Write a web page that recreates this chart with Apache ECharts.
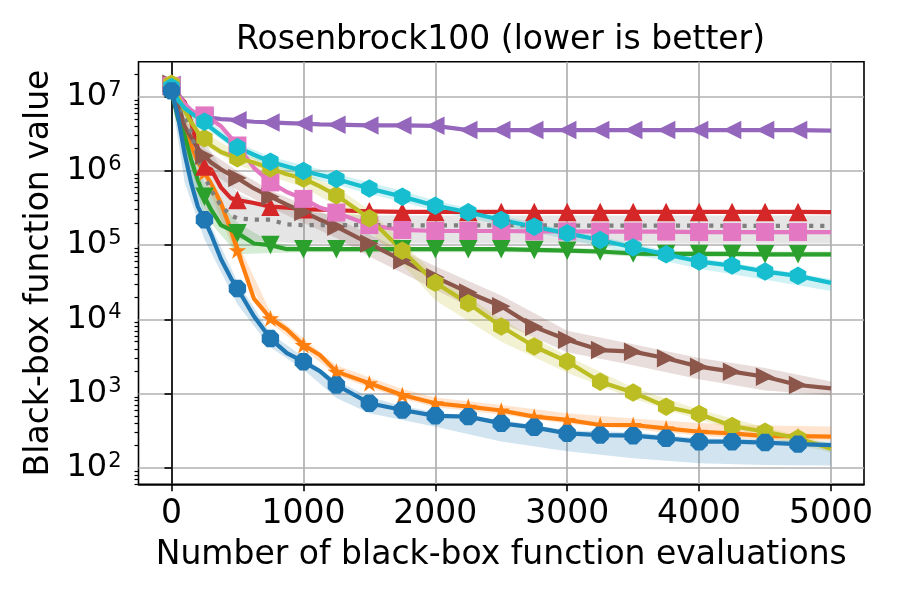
<!DOCTYPE html>
<html><head><meta charset="utf-8">
<script src="https://cdn.jsdelivr.net/npm/echarts@6/dist/echarts.min.js"></script>
<style>html,body{margin:0;padding:0;background:#fff}#c{width:900px;height:600px}</style>
</head><body><div id="c"></div>
<script>
// ---- data ----
const evals = [0,50,100,150,200,250,300,375,450,500,625,750,875,1000,1125,1250,1500,1750,2000,2250,2500,2750,3000,3250,3500,3750,4000,4250,4500,4750,5000];
const blueVals   = [1.2e7,5.4e6,1.7e6,6.8e5,3.3e5,2.2e5,1.4e5,6.5e4,3.6e4,2.6e4,1.1e4,5.5e3,3.5e3,2.68e3,2.0e3,1.3e3,740,600,500,487,396,350,290,275,270,249,224,224,218,208,202];
const orangeVals = [1.3e7,7.3e6,3.8e6,2.2e6,1.3e6,9.5e5,6.8e5,3.7e5,1.6e5,8.5e4,1.9e4,1.03e4,7.3e3,4.5e3,3.3e3,1.97e3,1.37e3,955,738,664,590,487,440,376,376,339,305,290,267,267,262];
const greenVals  = [1.2e7,5.0e6,3.0e6,1.4e6,7.5e5,4.5e5,3.0e5,1.86e5,1.6e5,1.45e5,1.05e5,1.0e5,8.8e4,8.8e4,8.8e4,8.8e4,8.8e4,8.8e4,8.8e4,8.8e4,8.8e4,8.6e4,8.4e4,8.2e4,7.7e4,7.6e4,7.6e4,7.6e4,7.5e4,7.5e4,7.5e4];
const redVals    = [1.4e7,1.05e7,8.5e6,4.5e6,2.0e6,1.15e6,1.05e6,6.0e5,4.3e5,4.06e5,3.7e5,3.3e5,3.2e5,3.05e5,3.0e5,2.95e5,2.85e5,2.8e5,2.8e5,2.8e5,2.8e5,2.8e5,2.8e5,2.8e5,2.8e5,2.8e5,2.8e5,2.8e5,2.8e5,2.8e5,2.78e5];
const purpleVals = [1.45e7,1.1e7,8.0e6,6.5e6,5.8e6,5.5e6,5.2e6,5.0e6,4.9e6,4.8e6,4.6e6,4.5e6,4.4e6,4.35e6,4.25e6,4.2e6,4.1e6,4.1e6,4.05e6,3.55e6,3.55e6,3.55e6,3.55e6,3.55e6,3.55e6,3.55e6,3.55e6,3.55e6,3.55e6,3.55e6,3.5e6];
const brownVals  = [1.5e7,8.0e6,4.0e6,2.8e6,2.0e6,1.6e6,1.3e6,1.05e6,8.8e5,8.0e5,5.8e5,4.5e5,3.5e5,2.8e5,2.2e5,1.77e5,1.05e5,6.2e4,3.7e4,2.3e4,1.5e4,7.9e3,5.3e3,3.85e3,3.66e3,2.98e3,2.3e3,1.97e3,1.68e3,1.3e3,1.17e3];
const pinkVals   = [1.4e7,1.05e7,8.0e6,6.5e6,5.8e6,5.6e6,5.0e6,4.0e6,2.8e6,2.2e6,1.1e6,7.0e5,5.2e5,4.2e5,3.2e5,2.75e5,1.86e5,1.6e5,1.55e5,1.55e5,1.55e5,1.53e5,1.53e5,1.52e5,1.52e5,1.52e5,1.5e5,1.5e5,1.5e5,1.5e5,1.5e5];
const grayVals   = [1.3e7,8.5e6,5.5e6,3.2e6,1.5e6,8.5e5,5.5e5,3.4e5,2.5e5,2.3e5,2.2e5,2.2e5,1.9e5,1.86e5,1.86e5,1.86e5,1.86e5,1.85e5,1.85e5,1.85e5,1.84e5,1.84e5,1.84e5,1.83e5,1.83e5,1.83e5,1.83e5,1.82e5,1.82e5,1.82e5,1.82e5];
const oliveVals  = [1.5e7,1.0e7,6.5e6,4.5e6,3.3e6,2.75e6,2.2e6,1.8e6,1.6e6,1.48e6,1.3e6,1.08e6,9.0e5,7.9e5,6.2e5,4.7e5,2.3e5,8.4e4,3.1e4,1.64e4,8.0e3,4.3e3,2.7e3,1.44e3,1.03e3,664,530,365,305,249,180];
const cyanVals   = [1.35e7,9.0e6,7.0e6,6.0e6,5.2e6,4.6e6,3.8e6,3.0e6,2.4e6,2.08e6,1.65e6,1.33e6,1.15e6,1.0e6,8.8e5,7.8e5,5.8e5,4.5e5,3.4e5,2.77e5,2.18e5,1.77e5,1.44e5,1.17e5,9.3e4,7.5e4,6.0e4,5.3e4,4.4e4,3.85e4,3.1e4];

// spread bands (lower / upper)
const bandEvals = [0,100,250,500,750,1000,1250,1500,1750,2000,2500,3000,3500,4000,4500,5000];
const blueLo   = [1.0e7,7.0e5,1.2e5,1.6e4,4.2e3,2.1e3,870,540,440,355,225,166,134,115,109,107];
const blueHi   = [1.4e7,2.5e6,2.8e5,3.2e4,6.5e3,3.1e3,1.5e3,900,680,560,440,320,300,250,240,225];
const orangeLo = [1.1e7,3.0e6,8.0e5,6.5e4,9.0e3,4.0e3,1.75e3,1.2e3,850,650,520,390,330,270,235,230];
const orangeHi = [1.5e7,4.5e6,1.15e6,1.1e5,1.25e4,5.5e3,2.4e3,1.65e3,1.15e3,880,700,540,460,400,370,360];
const greenLo  = [1.0e7,1.5e6,2.5e5,7.5e4,7.8e4,8.0e4,8.0e4,8.0e4,8.0e4,8.0e4,8.0e4,7.8e4,7.0e4,6.9e4,6.9e4,6.9e4];
const greenHi  = [1.4e7,4.5e6,7.0e5,2.0e5,1.1e5,9.5e4,9.4e4,9.4e4,9.4e4,9.4e4,9.3e4,9.3e4,8.5e4,8.3e4,8.2e4,8.2e4];
const brownLo  = [1.1e7,2.8e6,1.1e6,5.5e5,3.2e5,2.0e5,1.25e5,7.0e4,4.2e4,2.5e4,9.0e3,3.6e3,2.4e3,1.55e3,1.1e3,950];
const brownHi  = [1.6e7,5.0e6,2.0e6,1.0e6,5.5e5,3.5e5,2.3e5,1.4e5,8.5e4,5.2e4,2.1e4,7.0e3,4.6e3,3.0e3,2.2e3,1.45e3];
const grayLo   = [1.0e7,2.0e6,3.0e5,1.2e5,1.1e5,1.05e5,1.05e5,1.05e5,1.05e5,1.05e5,1.05e5,1.05e5,1.05e5,1.05e5,1.05e5,1.05e5];
const grayHi   = [1.5e7,8.0e6,2.5e6,5.0e5,3.2e5,2.8e5,2.6e5,2.5e5,2.5e5,2.5e5,2.5e5,2.5e5,2.5e5,2.5e5,2.5e5,2.5e5];
const oliveLo  = [1.1e7,4.5e6,2.2e6,1.2e6,8.5e5,6.0e5,3.4e5,1.6e5,5.5e4,1.8e4,5.0e3,1.9e3,850,440,260,160];
const oliveHi  = [1.6e7,8.0e6,3.3e6,1.8e6,1.3e6,9.5e5,6.0e5,3.0e5,1.1e5,4.0e4,1.0e4,3.2e3,1.2e3,610,350,210];
const cyanLo   = [1.1e7,5.5e6,3.9e6,1.8e6,1.15e6,8.5e5,6.5e5,4.9e5,3.8e5,2.9e5,1.85e5,1.2e5,7.6e4,4.8e4,3.4e4,2.4e4];
const cyanHi   = [1.6e7,8.0e6,5.3e6,2.4e6,1.55e6,1.2e6,9.2e5,7.0e5,5.4e5,4.0e5,2.5e5,1.6e5,1.05e5,6.7e4,4.9e4,3.5e4];

const xTicks = [0,1000,2000,3000,4000,5000];
const yTicks = [1e2,1e3,1e4,1e5,1e6,1e7];
const minorMult = [2,3,4,5,6,7,8,9];
const titleText = 'Rosenbrock100 (lower is better)';
const xName = 'Number of black-box function evaluations';
const yName = 'Black-box function value';

// ---- styles ----
const FONT = 'DejaVu Sans';
const SYM = {
  octagon: 'path://M0.924,0.383L0.383,0.924L-0.383,0.924L-0.924,0.383L-0.924,-0.383L-0.383,-0.924L0.383,-0.924L0.924,-0.383Z',
  star: 'path://M0,-1L0.2245,-0.309L0.951,-0.309L0.363,0.118L0.588,0.809L0,0.382L-0.588,0.809L-0.363,0.118L-0.951,-0.309L-0.2245,-0.309Z',
  tdown: 'path://M-1,-1L1,-1L0,1Z',
  tup: 'path://M0,-1L1,1L-1,1Z',
  tleft: 'path://M-1,0L1,-1L1,1Z',
  tright: 'path://M1,0L-1,-1L-1,1Z',
  square: 'path://M-1,-1L1,-1L1,1L-1,1Z',
  hex: 'path://M0,-1L0.866,-0.5L0.866,0.5L0,1L-0.866,0.5L-0.866,-0.5Z'
};
const YMIN = Math.pow(10, 1.776), YMAX = Math.pow(10, 7.472);

const defs = [
  {name:'orange', vals:orangeVals, color:'#ff7f0e', sym:SYM.star,  size:[17.5,16.8], lo:orangeLo, hi:orangeHi},
  {name:'green',  vals:greenVals,  color:'#2ca02c', sym:SYM.tdown, size:[18.5,18.5], lo:greenLo, hi:greenHi},
  {name:'red',    vals:redVals,    color:'#d62728', sym:SYM.tup,   size:[18.5,18.5]},
  {name:'purple', vals:purpleVals, color:'#9467bd', sym:SYM.tleft, size:[18.5,18.5]},
  {name:'brown',  vals:brownVals,  color:'#8c564b', sym:SYM.tright,size:[18.5,18.5], lo:brownLo, hi:brownHi},
  {name:'pink',   vals:pinkVals,   color:'#e377c2', sym:SYM.square,size:[18,18]},
  {name:'gray',   vals:grayVals,   color:'#7f7f7f', sym:null, dotted:true, lo:grayLo, hi:grayHi},
  {name:'olive',  vals:oliveVals,  color:'#bcbd22', sym:SYM.hex,   size:[16.4,18.5], lo:oliveLo, hi:oliveHi},
  {name:'cyan',   vals:cyanVals,   color:'#17becf', sym:SYM.hex,   size:[16.4,18.5], lo:cyanLo, hi:cyanHi},
  {name:'blue',   vals:blueVals,   color:'#1f77b4', sym:SYM.octagon,size:[17.4,17.4], lo:blueLo, hi:blueHi}
];

function bandSeries(d) {
  return {
    type: 'custom', silent: true, clip: true, z: 1,
    xAxisIndex: 0, yAxisIndex: 0,
    data: bandEvals.map((x, i) => [x, d.lo[i], d.hi[i]]),
    encode: {x: 0, y: [1, 2]},
    renderItem: (params, api) => {
      if (params.dataIndex !== 0) return null;
      const pts = [];
      for (let i = 0; i < bandEvals.length; i++) pts.push(api.coord([bandEvals[i], d.hi[i]]));
      for (let i = bandEvals.length - 1; i >= 0; i--) pts.push(api.coord([bandEvals[i], d.lo[i]]));
      return {type: 'polygon', shape: {points: pts}, style: {fill: d.color, opacity: 0.2}};
    }
  };
}

const series = [];
defs.forEach(d => { if (d.lo) series.push(bandSeries(d)); });
defs.forEach(d => {
  series.push({
    type: 'line', name: d.name, z: 2, clip: true,
    showSymbol: false, symbol: 'none', animation: false,
    data: evals.map((x, i) => [x, d.vals[i]]),
    lineStyle: {color: d.color, width: 4.2, type: d.dotted ? [4.2, 6.9] : 'solid', cap: 'butt', join: 'round'}
  });
  if (d.sym) {
    series.push({
      type: 'scatter', name: d.name + ' markers', z: 2,
      symbol: d.sym, symbolSize: d.size,
      itemStyle: {color: d.color, opacity: 1},
      data: evals.map((x, i) => [x, d.vals[i]]).filter(p => p[0] % 250 === 0 && p[0] < 5000)
    });
  }
});

const minorTicks = [];
for (let e = 1; e <= 7; e++) minorMult.forEach(m => { const v = m * Math.pow(10, e); if (v > YMIN && v < YMAX) minorTicks.push(v); });

const chart = echarts.init(document.getElementById('c'), null, {renderer: 'canvas'});
chart.setOption({
  animation: false,
  backgroundColor: '#fff',
  textStyle: {fontFamily: FONT},
  title: {
    text: titleText, left: 236, top: 24, padding: 0,
    textStyle: {fontFamily: FONT, fontSize: 33, fontWeight: 'normal', color: '#000'}
  },
  grid: {left: 138.5, top: 61.7, right: 36, bottom: 115.7, show: true, borderColor: '#000', borderWidth: 1.6, backgroundColor: 'transparent'},
  xAxis: {
    type: 'value', min: -250, max: 5250,
    name: xName, nameLocation: 'middle', nameGap: 55,
    nameTextStyle: {fontFamily: FONT, fontSize: 33, color: '#000'},
    axisLine: {show: true, onZero: false, lineStyle: {color: '#000', width: 1.6}},
    axisTick: {show: true, length: 7, customValues: xTicks, lineStyle: {color: '#000', width: 1.6}},
    axisLabel: {customValues: xTicks, margin: 14, fontFamily: FONT, fontSize: 33, color: '#000', formatter: v => String(v)},
    splitLine: {show: true, lineStyle: {color: '#b0b0b0', width: 1.7}}
  },
  yAxis: [{
    type: 'log', logBase: 10, min: YMIN, max: YMAX,
    name: yName, nameLocation: 'middle', nameGap: 80,
    nameTextStyle: {fontFamily: FONT, fontSize: 33, color: '#000'},
    axisLine: {show: true, lineStyle: {color: '#000', width: 1.6}},
    axisTick: {show: true, length: 7, customValues: yTicks, lineStyle: {color: '#000', width: 1.6}},
    axisLabel: {
      customValues: yTicks, margin: 17, color: '#000',
      formatter: v => '{b|10}{s|' + Math.round(Math.log10(v)) + '}',
      rich: {
        b: {fontFamily: FONT, fontSize: 32, color: '#000', lineHeight: 34},
        s: {fontFamily: FONT, fontSize: 21, color: '#000', lineHeight: 21, verticalAlign: 'top', padding: [0, 0, 0, 1]}
      }
    },
    splitLine: {show: true, lineStyle: {color: '#b0b0b0', width: 1.7}}
  }, {
    type: 'log', logBase: 10, min: YMIN, max: YMAX, position: 'left',
    axisLine: {show: false},
    axisTick: {show: true, length: 4, customValues: minorTicks, lineStyle: {color: '#000', width: 1.2}},
    axisLabel: {show: false},
    splitLine: {show: false}
  }],
  series: series
});
</script>
</body></html>
